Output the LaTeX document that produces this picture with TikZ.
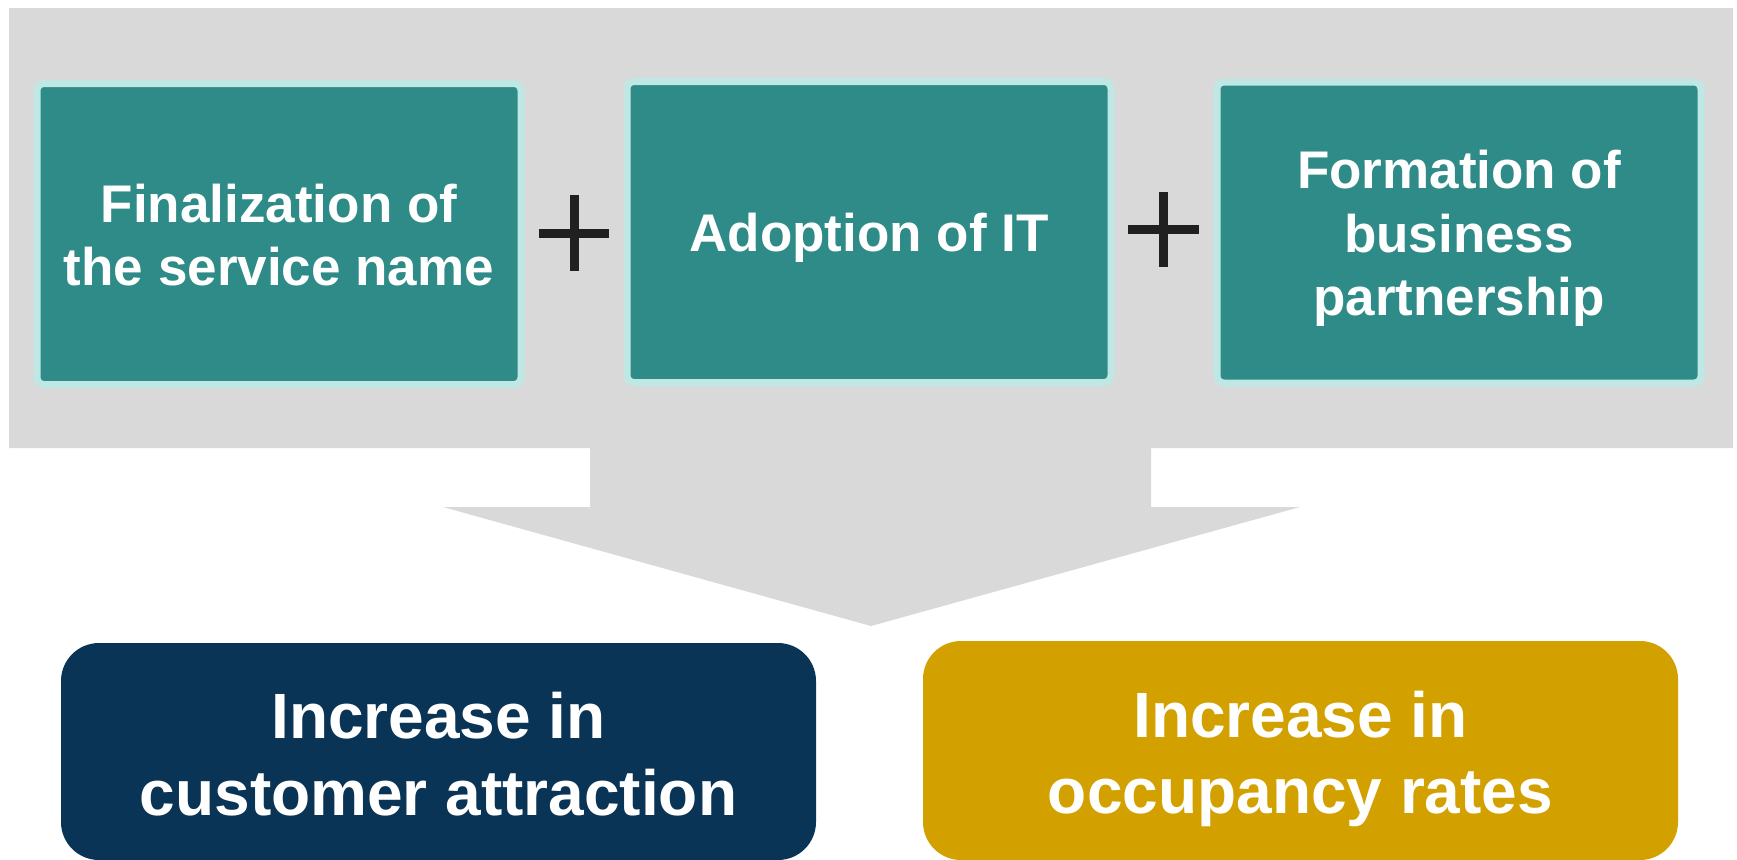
\documentclass[tikz,border=0pt]{standalone}
\usepackage{fontspec}
\setmainfont{Liberation Sans}
\definecolor{panelgray}{HTML}{D9D9D9}
\definecolor{tealfill}{HTML}{2E8B88}
\definecolor{tealedge}{HTML}{BFE8E4}
\definecolor{navyfill}{HTML}{0A3455}
\definecolor{goldfill}{HTML}{D2A100}
\definecolor{plusink}{HTML}{202020}
\begin{document}
\begin{tikzpicture}[x=0.5pt,y=-0.5pt,
  stepcard/.style={fill=tealfill, draw=tealedge, line width=3.5pt,
    rounded corners=3.5pt, minimum width=242pt, minimum height=150.5pt,
    inner sep=0pt},
  resultcard/.style={rounded corners=19pt, minimum width=377.5pt,
    inner sep=0pt},
  cardtext/.style={text=white, font=\bfseries\fontsize{26.5}{31.5}\selectfont,
    anchor=base, inner sep=0pt},
  resulttext/.style={text=white, font=\bfseries\fontsize{32}{38}\selectfont,
    anchor=base, inner sep=0pt},
  plussign/.style={draw=plusink, line width=4.5pt}]
\useasboundingbox (0,0) rectangle (1737,859);

% grey panel with the downward arrow
\fill[panelgray] (9,8) -- (1733,8) -- (1733,448) -- (1151,448) -- (1151,507)
  -- (1300,507) -- (871,626) -- (443,507) -- (590,507) -- (590,448)
  -- (9,448) -- cycle;

% three measures
\node[stepcard] (s1) at (279,234) {};
\node[stepcard] (s2) at (869,232) {};
\node[stepcard] (s3) at (1459,232.5) {};

\node[cardtext] (s1a) at (279,222) {Finalization of};
\node[cardtext] (s1b) at (279,285) {the service name};
\node[cardtext] (s2a) at (869,251) {Adoption of IT};
\node[cardtext] (s3a) at (1459,188.5) {Formation of};
\node[cardtext] (s3b) at (1459,252) {business};
\node[cardtext] (s3c) at (1459,315) {partnership};

% plus signs between the measures
\draw[plussign] (539,233) -- (609,233);
\draw[plussign] (574,195) -- (574,271);
\draw[plussign] (1128,229) -- (1199,229);
\draw[plussign] (1163.5,192) -- (1163.5,267);

% outcomes
\node[resultcard, fill=navyfill, minimum height=108.5pt] (r1) at (438.5,751.5) {};
\node[resultcard, fill=goldfill, minimum height=109.5pt] (r2) at (1300.5,750.5) {};

\node[resulttext] (r1a) at (438.5,738) {Increase in};
\node[resulttext] (r1b) at (438.5,815) {customer attraction};
\node[resulttext] (r2a) at (1300.5,737) {Increase in};
\node[resulttext] (r2b) at (1300.5,813) {occupancy rates};
\end{tikzpicture}
\end{document}
